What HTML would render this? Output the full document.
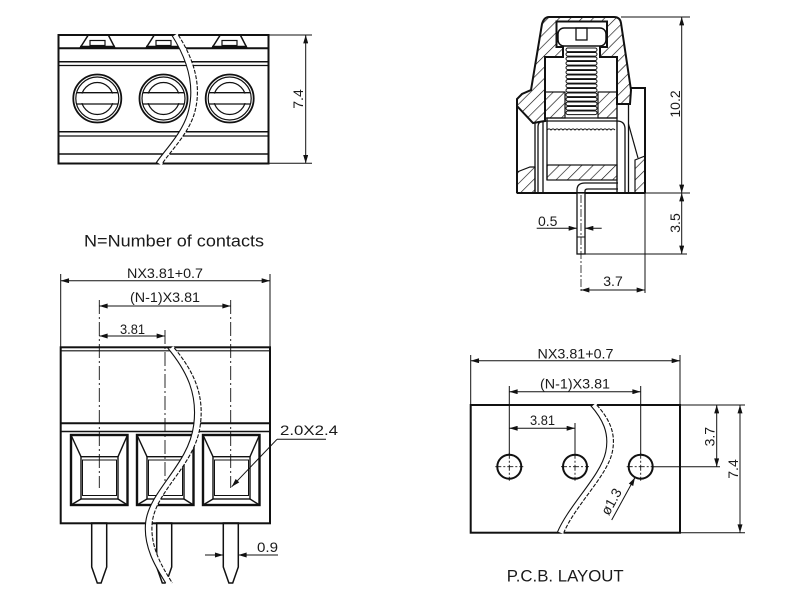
<!DOCTYPE html>
<html><head><meta charset="utf-8"><style>
html,body{margin:0;padding:0;background:#fff;}
svg{display:block;}
text{font-family:"Liberation Sans",sans-serif;fill:#1a1a1a;font-size:14px;}
</style></head><body>
<svg width="800" height="610" viewBox="0 0 800 610" xmlns="http://www.w3.org/2000/svg">
<defs>
<marker id="ar" viewBox="0 0 10 6" refX="10" refY="3" markerWidth="9" markerHeight="5" markerUnits="userSpaceOnUse" orient="auto-start-reverse"><path d="M0,0 L10,3 L0,6 Z" fill="#111"/></marker>
<pattern id="hx" patternUnits="userSpaceOnUse" width="8" height="8" patternTransform="rotate(45)"><line x1="0" y1="0" x2="0" y2="8" stroke="#111" stroke-width="1.3"/></pattern>
</defs>
<rect width="800" height="610" fill="#fff"/>

<!-- ============ TOP-LEFT VIEW ============ -->
<g fill="none" stroke="#111">
<rect x="58.5" y="35" width="210" height="128.5" stroke-width="2"/>
<line x1="58.5" y1="48.3" x2="268.5" y2="48.3" stroke-width="2"/>
<line x1="58.5" y1="61.7" x2="268.5" y2="61.7" stroke-width="1.5"/>
<line x1="58.5" y1="65.5" x2="268.5" y2="65.5" stroke-width="1.2"/>
<line x1="58.5" y1="131.7" x2="268.5" y2="131.7" stroke-width="1.5"/>
<line x1="58.5" y1="136" x2="268.5" y2="136" stroke-width="1.2"/>
<line x1="58.5" y1="154" x2="268.5" y2="154" stroke-width="1.5"/>
<!-- tabs -->
<polygon points="80,48 88.3,35 108.3,35 115,48" stroke-width="1.5"/>
<line x1="80" y1="47" x2="115" y2="47" stroke-width="2.5"/>
<rect x="90" y="40.5" width="15" height="5" stroke-width="1.2"/>
<polygon points="146,48 154.3,35 174.3,35 181,48" stroke-width="1.5"/>
<line x1="146" y1="47" x2="181" y2="47" stroke-width="2.5"/>
<rect x="156" y="40.5" width="15" height="5" stroke-width="1.2"/>
<polygon points="212,48 220.3,35 240.3,35 247,48" stroke-width="1.5"/>
<line x1="212" y1="47" x2="247" y2="47" stroke-width="2.5"/>
<rect x="222" y="40.5" width="15" height="5" stroke-width="1.2"/>
<!-- screws -->
<circle cx="97.3" cy="98.5" r="24" stroke-width="1.8"/>
<circle cx="97.3" cy="98.5" r="21.5" stroke-width="1.2"/>
<circle cx="97.3" cy="98.5" r="16" stroke-width="1.2"/>
<rect x="80" y="93.6" width="35" height="9.5" fill="#fff" stroke="none"/>
<line x1="76.5" y1="92.7" x2="118.1" y2="92.7" stroke-width="1.3"/>
<line x1="76.5" y1="104" x2="118.1" y2="104" stroke-width="1.3"/>
<circle cx="163.5" cy="98.5" r="24" stroke-width="1.8"/>
<circle cx="163.5" cy="98.5" r="21.5" stroke-width="1.2"/>
<circle cx="163.5" cy="98.5" r="16" stroke-width="1.2"/>
<rect x="146" y="93.6" width="35" height="9.5" fill="#fff" stroke="none"/>
<line x1="142.7" y1="92.7" x2="184.3" y2="92.7" stroke-width="1.3"/>
<line x1="142.7" y1="104" x2="184.3" y2="104" stroke-width="1.3"/>
<circle cx="229.7" cy="98.5" r="24" stroke-width="1.8"/>
<circle cx="229.7" cy="98.5" r="21.5" stroke-width="1.2"/>
<circle cx="229.7" cy="98.5" r="16" stroke-width="1.2"/>
<rect x="212.2" y="93.6" width="35" height="9.5" fill="#fff" stroke="none"/>
<line x1="208.9" y1="92.7" x2="250.5" y2="92.7" stroke-width="1.3"/>
<line x1="208.9" y1="104" x2="250.5" y2="104" stroke-width="1.3"/>
<!-- wire -->
<path d="M175,35 C191,60 198,85 192,110 C187,132 168,150 159,163.5" stroke="#fff" stroke-width="6"/>
<path d="M175,35 C191,60 198,85 192,110 C187,132 168,150 159,163.5" transform="translate(-3.3,0)" stroke-width="1.1"/>
<path d="M175,35 C191,60 198,85 192,110 C187,132 168,150 159,163.5" transform="translate(3.3,0)" stroke-width="1.1" stroke-dasharray="4 1.5"/>
<!-- dim 7.4 -->
<line x1="269.5" y1="35" x2="312" y2="35" stroke-width="1"/>
<line x1="269.5" y1="163.3" x2="312" y2="163.3" stroke-width="1"/>
<line x1="305.7" y1="35" x2="305.7" y2="163.3" stroke-width="1" marker-start="url(#ar)" marker-end="url(#ar)"/>
</g>
<text transform="translate(303,99) rotate(-90)" text-anchor="middle">7.4</text>

<!-- ============ SIDE VIEW ============ -->
<g fill="none" stroke="#111">
<path d="M549,17 L614,17 Q620,17 621,23 L631,90 L630,104 L617,104 L617,57 L600,57 L600,47 L607,47 L607,21.5 L556.5,21.5 L556.5,47 L563,47 L563,57 L545,57 L545,121 L533,123 L517,106 L517,99 L522,94 L531,90 L542,24 Q544,17 549,17 Z" fill="url(#hx)" stroke-width="2"/>
<rect x="545" y="92" width="20" height="26" fill="url(#hx)" stroke-width="1.2"/>
<rect x="598" y="92" width="19" height="26" fill="url(#hx)" stroke-width="1.2"/>
<rect x="547" y="165" width="70" height="15" fill="url(#hx)" stroke-width="1.2"/>
<path d="M517,172 L530,167 L535,167 L535,193 L517,193 Z" fill="url(#hx)" stroke-width="1.2"/>
<path d="M635,160 L645,156 L645,193 L635,193 Z" fill="url(#hx)" stroke-width="1.2"/>
<!-- screw head -->
<rect x="558" y="28" width="48" height="18" rx="6" fill="#fff" stroke-width="1.5"/>
<rect x="576" y="28" width="11" height="12" stroke-width="1.3"/>
<!-- threads -->
<g fill="#fff" stroke-width="1">
<rect x="566" y="48" width="31" height="3.6" rx="1.8"/>
<rect x="566" y="52.5" width="31" height="3.6" rx="1.8"/>
<rect x="566" y="57" width="31" height="3.6" rx="1.8"/>
<rect x="566" y="61.5" width="31" height="3.6" rx="1.8"/>
<rect x="566" y="66" width="31" height="3.6" rx="1.8"/>
<rect x="566" y="70.5" width="31" height="3.6" rx="1.8"/>
<rect x="566" y="75" width="31" height="3.6" rx="1.8"/>
<rect x="566" y="79.5" width="31" height="3.6" rx="1.8"/>
<rect x="566" y="84" width="31" height="3.6" rx="1.8"/>
<rect x="566" y="88.5" width="31" height="3.6" rx="1.8"/>
<rect x="566" y="93" width="31" height="3.6" rx="1.8"/>
<rect x="566" y="97.5" width="31" height="3.6" rx="1.8"/>
<rect x="566" y="102" width="31" height="3.6" rx="1.8"/>
<rect x="566" y="106.5" width="31" height="3.6" rx="1.8"/>
<rect x="566" y="111" width="31" height="3.6" rx="1.8"/>
</g>
<line x1="517" y1="106" x2="517" y2="193" stroke-width="2"/>
<line x1="535" y1="123" x2="535" y2="193" stroke-width="1.3"/>
<line x1="543" y1="121" x2="543" y2="193" stroke-width="1.3"/>
<path d="M538,193 L538,127 Q538,121 544,121 L617,121 Q625,121 625,129 L625,193" stroke-width="1.3"/>
<line x1="547" y1="118" x2="547" y2="180" stroke-width="1.3"/>
<line x1="617" y1="104" x2="617" y2="193" stroke-width="1.3"/>
<line x1="547" y1="118" x2="617" y2="118" stroke-width="1.3"/>
<line x1="628.5" y1="104" x2="628.5" y2="193" stroke-width="1.3"/>
<line x1="628.5" y1="124" x2="638" y2="158" stroke-width="1.2"/>
<path d="M631,88 L645,88 L645,193" stroke-width="2"/>
<line x1="517" y1="193" x2="645" y2="193" stroke-width="2"/>
<path d="M547,130 q2,-2.2 4,0 q2,-2.2 4,0 q2,-2.2 4,0 q2,-2.2 4,0 q2,-2.2 4,0 q2,-2.2 4,0 q2,-2.2 4,0 q2,-2.2 4,0 q2,-2.2 4,0 q2,-2.2 4,0 q2,-2.2 4,0 q2,-2.2 4,0 q2,-2.2 4,0 q2,-2.2 4,0 q2,-2.2 4,0 q2,-2.2 4,0 q2,-2.2 4,0" stroke-width="1"/>
<!-- pin -->
<path d="M577,193 L577,190 Q577,183 585,183 L618,183" stroke-width="1.3"/>
<path d="M585,193 L585,191 Q585,189 588,189 L618,189" stroke-width="1.3"/>
<rect x="577" y="193" width="8" height="61" fill="#fff" stroke-width="1.3"/>
<line x1="577" y1="237" x2="585" y2="237" stroke-width="1"/>
<line x1="581" y1="195" x2="581" y2="293" stroke-width="0.8" stroke-dasharray="8 2 2 2"/>
<!-- dims -->
<line x1="621" y1="17" x2="690" y2="17" stroke-width="1"/>
<line x1="645" y1="193" x2="690" y2="193" stroke-width="1"/>
<line x1="585" y1="254" x2="687" y2="254" stroke-width="1"/>
<line x1="681.7" y1="17" x2="681.7" y2="193" stroke-width="1" marker-start="url(#ar)" marker-end="url(#ar)"/>
<line x1="681.7" y1="193" x2="681.7" y2="254" stroke-width="1" marker-start="url(#ar)" marker-end="url(#ar)"/>
<line x1="536.7" y1="228.3" x2="577" y2="228.3" stroke-width="1" marker-end="url(#ar)"/>
<line x1="601.7" y1="228.3" x2="585" y2="228.3" stroke-width="1" marker-end="url(#ar)"/>
<line x1="645" y1="193" x2="645" y2="293" stroke-width="1"/>
<line x1="581" y1="290" x2="645" y2="290" stroke-width="1" marker-start="url(#ar)" marker-end="url(#ar)"/>
</g>
<text transform="translate(680,104) rotate(-90)" text-anchor="middle">10.2</text>
<text transform="translate(680,223) rotate(-90)" text-anchor="middle">3.5</text>
<text x="538" y="226">0.5</text>
<text x="613" y="286" text-anchor="middle">3.7</text>

<!-- ============ NOTE ============ -->
<text x="84" y="246.5" style="font-size:17px" textLength="180" lengthAdjust="spacingAndGlyphs">N=Number of contacts</text>

<!-- ============ FRONT VIEW ============ -->
<g fill="none" stroke="#111">
<!-- pins -->
<polygon points="91.7,523 91.7,567 97.3,583 101.1,583 106.7,567 106.7,523" fill="#fff" stroke-width="1.5"/>
<polygon points="156.7,523 156.7,567 162.3,583 166.1,583 171.7,567 171.7,523" fill="#fff" stroke-width="1.5"/>
<polygon points="223.3,523 223.3,567 228.9,583 232.7,583 238.3,567 238.3,523" fill="#fff" stroke-width="1.5"/>
<rect x="60.7" y="347.3" width="209.3" height="176" stroke-width="2"/>
<line x1="60.7" y1="350.8" x2="270" y2="350.8" stroke-width="1.2"/>
<line x1="60.7" y1="423.3" x2="270" y2="423.3" stroke-width="2"/>
<line x1="60.7" y1="431.5" x2="270" y2="431.5" stroke-width="1.5"/>
<!-- openings -->
<g stroke-width="1.4">
<rect x="71" y="435" width="56.5" height="70" stroke-width="2.4"/>
<rect x="81" y="456.7" width="37" height="42.3"/>
<rect x="82.5" y="460" width="34" height="35.5" stroke-width="1"/>
<line x1="71" y1="435" x2="81" y2="456.7"/><line x1="127.5" y1="435" x2="118" y2="456.7"/>
<line x1="71" y1="505" x2="81" y2="499"/><line x1="127.5" y1="505" x2="118" y2="499"/>
<rect x="137" y="435" width="56.5" height="70" stroke-width="2.4"/>
<rect x="147" y="456.7" width="37" height="42.3"/>
<rect x="148.5" y="460" width="34" height="35.5" stroke-width="1"/>
<line x1="137" y1="435" x2="147" y2="456.7"/><line x1="193.5" y1="435" x2="184" y2="456.7"/>
<line x1="137" y1="505" x2="147" y2="499"/><line x1="193.5" y1="505" x2="184" y2="499"/>
<rect x="203" y="435" width="56.5" height="70" stroke-width="2.4"/>
<rect x="213" y="456.7" width="37" height="42.3"/>
<rect x="214.5" y="460" width="34" height="35.5" stroke-width="1"/>
<line x1="203" y1="435" x2="213" y2="456.7"/><line x1="259.5" y1="435" x2="250" y2="456.7"/>
<line x1="203" y1="505" x2="213" y2="499"/><line x1="259.5" y1="505" x2="250" y2="499"/>
</g>
<!-- center lines -->
<line x1="99.3" y1="300" x2="99.3" y2="488" stroke-width="0.9" stroke-dasharray="14 3 2 3"/>
<line x1="165" y1="330" x2="165" y2="488" stroke-width="0.9" stroke-dasharray="14 3 2 3"/>
<line x1="230.7" y1="300" x2="230.7" y2="488" stroke-width="0.9" stroke-dasharray="14 3 2 3"/>
<!-- wire -->
<path d="M171,348 C191,372 201,395 197,425 C192,465 153,490 149,522 C146,548 161,570 169,583" stroke="#fff" stroke-width="6"/>
<path d="M171,348 C191,372 201,395 197,425 C192,465 153,490 149,522 C146,548 161,570 169,583" transform="translate(-3.3,0)" stroke-width="1.1"/>
<path d="M171,348 C191,372 201,395 197,425 C192,465 153,490 149,522 C146,548 161,570 169,583" transform="translate(3.3,0)" stroke-width="1.1" stroke-dasharray="4 1.5"/>
<!-- dims -->
<line x1="60.7" y1="274" x2="60.7" y2="347" stroke-width="1"/>
<line x1="270" y1="274" x2="270" y2="347" stroke-width="1"/>
<line x1="60.7" y1="280.7" x2="270" y2="280.7" stroke-width="1" marker-start="url(#ar)" marker-end="url(#ar)"/>
<line x1="99.3" y1="306" x2="230.7" y2="306" stroke-width="1" marker-start="url(#ar)" marker-end="url(#ar)"/>
<line x1="99.3" y1="336" x2="165" y2="336" stroke-width="1" marker-start="url(#ar)" marker-end="url(#ar)"/>
<line x1="326" y1="439.3" x2="277" y2="439.3" stroke-width="1"/>
<line x1="277" y1="439.3" x2="231.7" y2="486.7" stroke-width="1" marker-end="url(#ar)"/>
<line x1="205" y1="555" x2="223.3" y2="555" stroke-width="1" marker-end="url(#ar)"/>
<line x1="278" y1="555" x2="238.3" y2="555" stroke-width="1" marker-end="url(#ar)"/>
</g>
<text x="127" y="278" textLength="76" lengthAdjust="spacingAndGlyphs">NX3.81+0.7</text>
<text x="130" y="302" textLength="70" lengthAdjust="spacingAndGlyphs">(N-1)X3.81</text>
<text x="120" y="334" textLength="25" lengthAdjust="spacingAndGlyphs">3.81</text>
<text x="280" y="435" textLength="58" lengthAdjust="spacingAndGlyphs">2.0X2.4</text>
<text x="257" y="552" textLength="21" lengthAdjust="spacingAndGlyphs">0.9</text>

<!-- ============ PCB LAYOUT ============ -->
<g fill="none" stroke="#111">
<rect x="470.7" y="405" width="209.3" height="127.7" stroke-width="2"/>
<line x1="470.7" y1="355" x2="470.7" y2="405" stroke-width="1"/>
<line x1="680" y1="355" x2="680" y2="405" stroke-width="1"/>
<line x1="470.7" y1="360.7" x2="680" y2="360.7" stroke-width="1" marker-start="url(#ar)" marker-end="url(#ar)"/>
<line x1="509.3" y1="386" x2="509.3" y2="455" stroke-width="1"/>
<line x1="640.7" y1="386" x2="640.7" y2="455" stroke-width="1"/>
<line x1="575" y1="423" x2="575" y2="455" stroke-width="1"/>
<line x1="509.3" y1="391.7" x2="640.7" y2="391.7" stroke-width="1" marker-start="url(#ar)" marker-end="url(#ar)"/>
<line x1="509.3" y1="428.3" x2="575" y2="428.3" stroke-width="1" marker-start="url(#ar)" marker-end="url(#ar)"/>
<!-- holes -->
<circle cx="509.3" cy="466.7" r="12" stroke-width="2"/>
<circle cx="575" cy="466.7" r="12" stroke-width="2"/>
<circle cx="640.7" cy="466.7" r="12" stroke-width="2"/>
<g stroke-width="0.9" stroke-dasharray="6 2 2 2">
<line x1="495.3" y1="466.7" x2="523.3" y2="466.7"/><line x1="509.3" y1="452.7" x2="509.3" y2="480.7"/>
<line x1="561" y1="466.7" x2="589" y2="466.7"/><line x1="575" y1="452.7" x2="575" y2="480.7"/>
<line x1="626.7" y1="466.7" x2="652.7" y2="466.7"/><line x1="640.7" y1="452.7" x2="640.7" y2="480.7"/>
</g>
<!-- wire -->
<path d="M593.5,405 C606,419 613,433 609,452 C604,476 572,505 560.5,532.7" stroke="#fff" stroke-width="6"/>
<path d="M593.5,405 C606,419 613,433 609,452 C604,476 572,505 560.5,532.7" transform="translate(-3.3,0)" stroke-width="1.1"/>
<path d="M593.5,405 C606,419 613,433 609,452 C604,476 572,505 560.5,532.7" transform="translate(3.3,0)" stroke-width="1.1" stroke-dasharray="4 1.5"/>
<!-- right dims -->
<line x1="652.7" y1="466.7" x2="720" y2="466.7" stroke-width="1"/>
<line x1="680" y1="405" x2="745" y2="405" stroke-width="1"/>
<line x1="680" y1="532.7" x2="745" y2="532.7" stroke-width="1"/>
<line x1="716.7" y1="405" x2="716.7" y2="466.7" stroke-width="1" marker-start="url(#ar)" marker-end="url(#ar)"/>
<line x1="740" y1="405" x2="740" y2="532.7" stroke-width="1" marker-start="url(#ar)" marker-end="url(#ar)"/>
<line x1="611.7" y1="520" x2="635" y2="477.5" stroke-width="1" marker-end="url(#ar)"/>
</g>
<text x="537.5" y="358.5" textLength="76" lengthAdjust="spacingAndGlyphs">NX3.81+0.7</text>
<text x="540" y="388.5" textLength="70" lengthAdjust="spacingAndGlyphs">(N-1)X3.81</text>
<text x="530" y="425" textLength="25" lengthAdjust="spacingAndGlyphs">3.81</text>
<text transform="translate(714.5,436.7) rotate(-90)" text-anchor="middle">3.7</text>
<text transform="translate(738,469) rotate(-90)" text-anchor="middle">7.4</text>
<text transform="translate(615.5,504) rotate(-61)" text-anchor="middle">ø1.3</text>
<text x="506.7" y="581.7" style="font-size:17px" textLength="117" lengthAdjust="spacingAndGlyphs">P.C.B. LAYOUT</text>
</svg>
</body></html>
